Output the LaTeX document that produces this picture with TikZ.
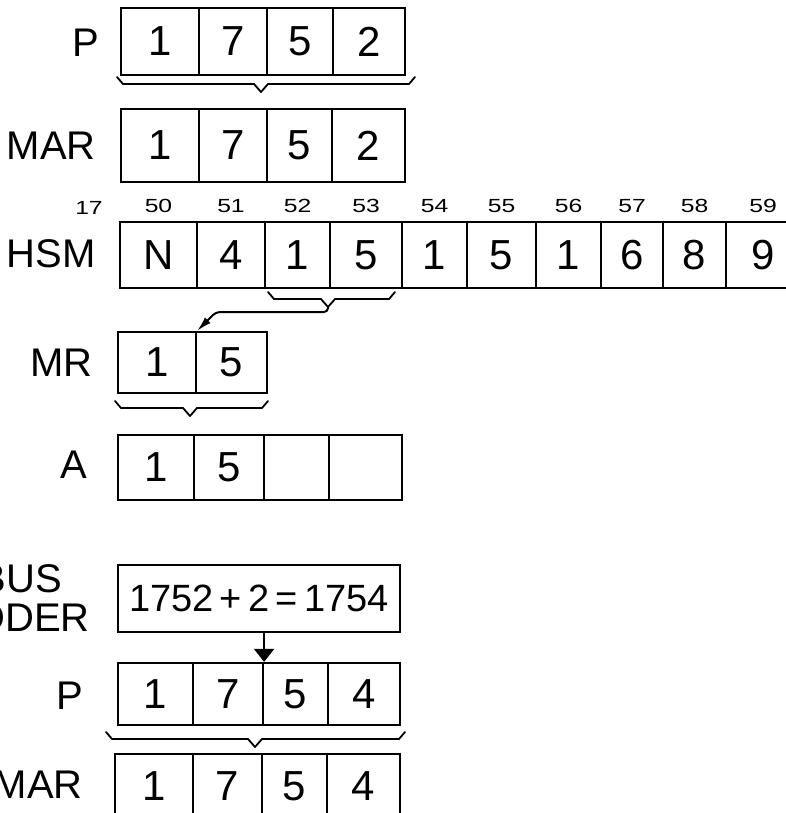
\documentclass[tikz,border=0pt]{standalone}
\usepackage{fontspec}
\setmainfont{Liberation Sans}
\newfontfamily\idxfont[FakeStretch=1.3]{Liberation Sans}
\usetikzlibrary{arrows.meta}
\newcommand\regcell[6]{\node[cell, minimum width={(#3)-(#2)}, minimum height={(#5)-(#4)}] (#1) at ({((#2)+(#3))/2},{((#4)+(#5))/2}) {#6};}
% brace: left x, right x, top y, tip x, name of tip coordinate
\newcommand\hbrace[5]{\draw[brc] (#1,#3) -- ({#1+6},{#3+7}) -- ({#4-7},{#3+7}) -- (#4,{#3+15}) coordinate (#5) -- ({#4+7},{#3+7}) -- ({#2-6},{#3+7}) -- (#2,#3);}
\begin{document}
\begin{tikzpicture}[x=1pt,y=-1pt,
  cell/.style={draw, line width=2.2pt, inner sep=0pt, font=\fontsize{42}{42}\selectfont},
  lbl/.style={inner sep=0pt, anchor=east, font=\fontsize{40}{40}\selectfont},
  idx/.style={inner sep=0pt, font=\idxfont\fontsize{19}{19}\selectfont},
  brc/.style={line width=1.8pt, line join=round, line cap=round},
  conn/.style={line width=2pt}]
\useasboundingbox (0,0) rectangle (785,813);

% P (before)
\regcell{p1a}{121}{199}{8}{75}{1}
\regcell{p1b}{199}{267}{8}{75}{7}
\regcell{p1c}{267}{333}{8}{75}{5}
\regcell{p1d}{333}{405}{8}{75}{2}
\node[lbl] (lP1) at (99,43) {P};
\hbrace{117}{415}{77}{261}{tipP1}

% MAR (before)
\regcell{m1a}{121}{199}{109}{182}{1}
\regcell{m1b}{199}{267}{109}{182}{7}
\regcell{m1c}{267}{332}{109}{182}{5}
\regcell{m1d}{332}{405}{109}{182}{2}
\node[lbl] (lMAR1) at (96,146) {MAR};

% HSM
\regcell{h1}{120}{197}{222}{288}{N}
\regcell{h2}{197}{265}{222}{288}{4}
\regcell{h3}{265}{330}{222}{288}{1}
\regcell{h4}{330}{402}{222}{288}{5}
\regcell{h5}{402}{467}{222}{288}{1}
\regcell{h6}{467}{536}{222}{288}{5}
\regcell{h7}{536}{601}{222}{288}{1}
\regcell{h8}{601}{663}{222}{288}{6}
\regcell{h9}{663}{726}{222}{288}{8}
\regcell{h10}{726}{800}{222}{288}{9}
\node[lbl] (lHSM) at (96,254) {HSM};
\node[idx] (n17) at (89,208) {17};
\foreach \c/\n in {h1/50,h2/51,h3/52,h4/53,h5/54,h6/55,h7/56,h8/57,h9/58,h10/59}
  \node[idx, anchor=south] (n\n) at ([yshift=8pt]\c.north) {\n};
\hbrace{268}{395}{292}{328}{tipH}

% MR
\regcell{r1}{118}{196}{332}{393}{1}
\regcell{r2}{196}{267}{332}{393}{5}
\node[lbl] (lMR) at (93,363) {MR};
\draw[conn, -{Latex[length=15pt,width=8pt]}, rounded corners=4pt]
  (tipH) -- ++(0,5) -- ++(-112,0) -- (r1.north east);
\hbrace{115}{268}{401}{190}{tipMR}

% A
\regcell{a1}{118}{194}{435}{500}{1}
\regcell{a2}{194}{264}{435}{500}{5}
\regcell{a3}{264}{329}{435}{500}{}
\regcell{a4}{329}{402}{435}{500}{}
\node[lbl] (lA) at (87,465) {A};

% BUS ADDER
\node[cell, minimum width=282, minimum height=67, font=\fontsize{38}{38}\selectfont] (add) at (259,598.5) {1752\,+\,2\,=\,1754};
\node[lbl] (lBUS) at (62,579) {BUS};
\node[lbl] (lADDER) at (90,618) {ADDER};

% P (after)
\regcell{p2a}{118}{193}{663}{725}{1}
\regcell{p2b}{193}{263}{663}{725}{7}
\regcell{p2c}{263}{328}{663}{725}{5}
\regcell{p2d}{328}{400}{663}{725}{4}
\node[lbl] (lP2) at (83,696) {P};
\draw[conn, -{Triangle[width=20pt,length=13pt]}] (add.south -| p2b.north east) -- (p2b.north east);
\hbrace{106}{405}{732}{255}{tipP2}

% MAR (after)
\regcell{m2a}{115}{193}{754}{818}{1}
\regcell{m2b}{193}{262}{754}{818}{7}
\regcell{m2c}{262}{327}{754}{818}{5}
\regcell{m2d}{327}{400}{754}{818}{4}
\node[lbl] (lMAR2) at (83,785) {MAR};
\end{tikzpicture}
\end{document}
